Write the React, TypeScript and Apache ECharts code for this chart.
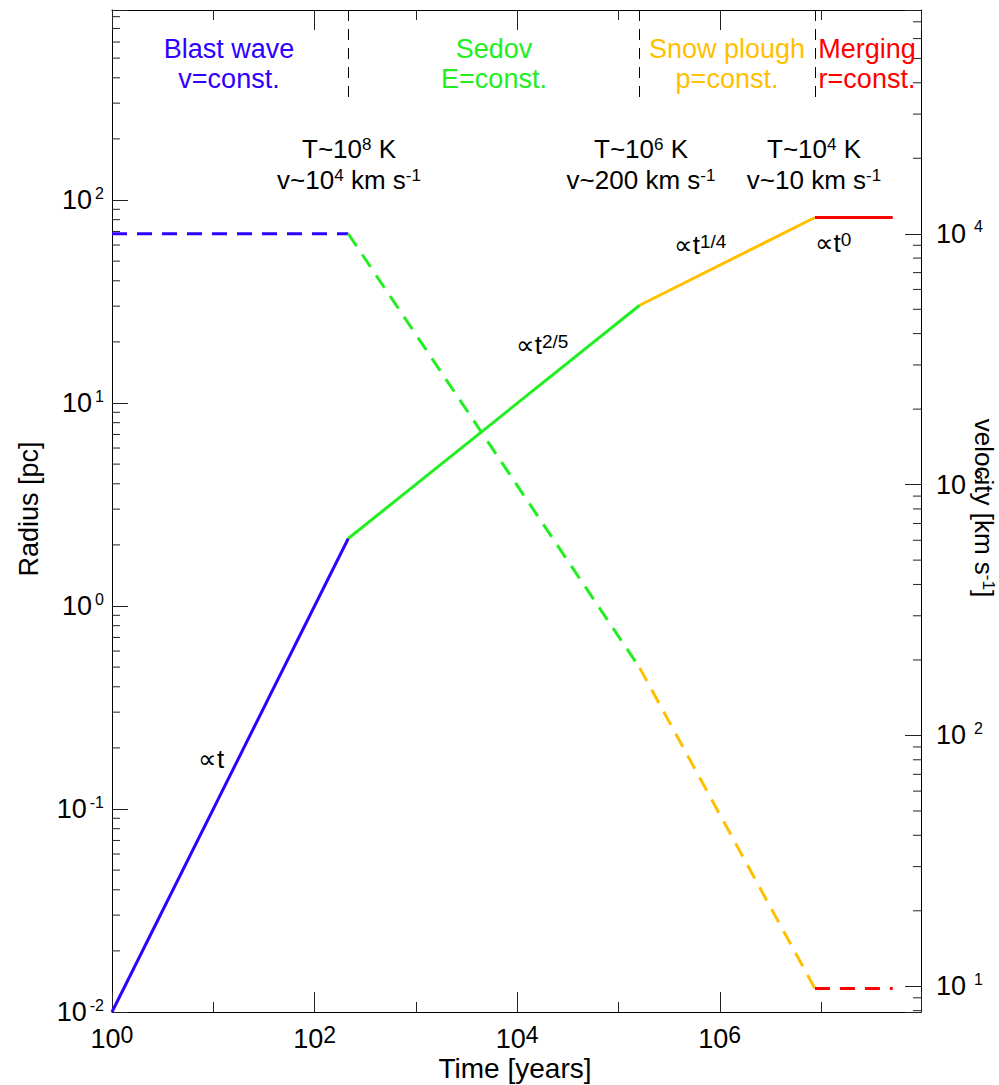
import React, { useEffect, useRef } from 'react';
import * as echarts from 'echarts';

// ---- data ----
// time of each phase boundary [years]
const breakTimes = [1, 215, 1.62e5, 8.7e6, 5.1e7];
// shell radius at each boundary [pc]
const radiusPc = [0.01, 2.15, 30.3, 82, 82];
// shell velocity at each boundary [km/s]
const velocityKms = [1e4, 1e4, 186, 9.8, 9.8];

const phaseNames = ['Blast wave', 'Sedov', 'Snow plough', 'Merging'];
const phaseLaws = ['v=const.', 'E=const.', 'p=const.', 'r=const.'];
const phaseColors = ['#2f00ff', '#22ee22', '#ffc000', '#ff0000'];
const slopeExponents = ['', '2/5', '1/4', '0'];
const transitionTempExp = ['8', '6', '4'];
const transitionSpeeds = [
  ['v~10', '4', ' km s', '-1'],
  ['v~200 km s', '-1', '', ''],
  ['v~10 km s', '-1', '', ''],
];

// axis extents
const timeMin = 1;
const timeMax = 9.7e7;
const radiusMin = 0.01;
const radiusMax = 863;
const velocityMin = 7.9;
const velocityMax = 78000;
const phaseLineBottomRadius = 310; // where the vertical dashed separators end
const minorMultipliers = [2, 3, 4, 5, 6, 7, 8, 9];

const FONT = '"Liberation Sans", Arial, Helvetica, sans-serif';

function expOf(v: number): number | null {
  const e = Math.log10(v);
  const r = Math.round(e);
  if (Math.abs(e - r) > 1e-6) return null;
  return r;
}

function minorTickValues(min: number, max: number): number[] {
  const out: number[] = [];
  const e0 = Math.floor(Math.log10(min));
  const e1 = Math.ceil(Math.log10(max));
  for (let e = e0; e <= e1; e++) {
    for (const m of minorMultipliers) {
      const v = m * Math.pow(10, e);
      if (v > min * 1.0001 && v < max * 0.9999) out.push(v);
    }
  }
  return out;
}

function buildOption() {
  const series: any[] = [];
  for (let i = 0; i < 4; i++) {
    const r: any = {
      type: 'line',
      name: phaseNames[i] + ' radius',
      xAxisIndex: 0,
      yAxisIndex: 0,
      symbol: 'none',
      silent: true,
      data: [
        [breakTimes[i], radiusPc[i]],
        [breakTimes[i + 1], radiusPc[i + 1]],
      ],
      lineStyle: { color: phaseColors[i], width: 3, type: 'solid' },
      z: 3,
    };
    if (i === 0) {
      r.markLine = {
        silent: true,
        symbol: 'none',
        label: { show: false },
        lineStyle: { color: '#000', width: 1, type: [11, 8] },
        data: breakTimes.slice(1, 4).map((t) => [
          { coord: [t, radiusMax] },
          { coord: [t, phaseLineBottomRadius] },
        ]),
      };
    }
    series.push(r);
    series.push({
      type: 'line',
      name: phaseNames[i] + ' velocity',
      xAxisIndex: 0,
      yAxisIndex: 1,
      symbol: 'none',
      silent: true,
      data: [
        [breakTimes[i], velocityKms[i]],
        [breakTimes[i + 1], velocityKms[i + 1]],
      ],
      lineStyle: { color: phaseColors[i], width: 3, type: [15, 10] },
      z: 3,
    });
  }

  // logarithmic minor ticks (2..9 x 10^n) on both y axes
  const minorTickSeries = (yAxisIndex: number, xAt: number, dir: number, values: number[]) => ({
    type: 'custom',
    name: 'minor ticks ' + yAxisIndex,
    xAxisIndex: 0,
    yAxisIndex,
    silent: true,
    clip: false,
    z: 5,
    data: values.map((v) => [xAt, v]),
    renderItem: (_params: any, api: any) => {
      const p = api.coord([api.value(0), api.value(1)]);
      return {
        type: 'line',
        shape: { x1: p[0], y1: p[1], x2: p[0] + dir * 8, y2: p[1] },
        style: { stroke: '#222', lineWidth: 1 },
      };
    },
  });
  series.push(minorTickSeries(0, timeMin, 1, minorTickValues(radiusMin, radiusMax)));
  series.push(minorTickSeries(1, timeMax, -1, minorTickValues(velocityMin, velocityMax)));

  const axisLineStyle = { color: '#000', width: 1 };
  const tickStyle = { color: '#222', width: 1 };

  const xLabel = {
    show: true,
    margin: 11,
    formatter: (v: number) => {
      const e = expOf(v);
      return e === null ? '' : `{b|10}{s|${e}}`;
    },
    rich: {
      b: { fontSize: 27, fontFamily: FONT, color: '#000', lineHeight: 32 },
      s: { fontSize: 23, fontFamily: FONT, color: '#000', lineHeight: 10, verticalAlign: 'top' },
    },
  };

  const mkX = (base: number, pos: string, len: number, labels: boolean, line: boolean) => ({
    type: 'log',
    logBase: base,
    min: timeMin,
    max: timeMax,
    position: pos,
    gridIndex: 0,
    axisLine: { show: line, lineStyle: axisLineStyle },
    axisTick: { show: true, inside: true, length: len, lineStyle: tickStyle },
    axisLabel: labels ? xLabel : { show: false },
    splitLine: { show: false },
    minorTick: { show: false },
    minorSplitLine: { show: false },
  });

  const yLabel = (margin: number, gap: number) => ({
    show: true,
    margin,
    formatter: (v: number) => {
      const e = expOf(v);
      return e === null ? '' : `{b|10}{s|${e}}`;
    },
    rich: {
      b: { fontSize: 27, fontFamily: FONT, color: '#000', lineHeight: 30 },
      s: {
        fontSize: 16,
        fontFamily: FONT,
        color: '#000',
        lineHeight: 14,
        verticalAlign: 'top',
        padding: [0, 0, 0, gap],
      },
    },
  });

  const mkY = (min: number, max: number, pos: string, margin: number, gap: number) => ({
    type: 'log',
    logBase: 10,
    min,
    max,
    position: pos,
    gridIndex: 0,
    axisLine: { show: true, lineStyle: axisLineStyle },
    axisTick: { show: true, inside: true, length: 16, lineStyle: tickStyle },
    minorTick: { show: false },
    axisLabel: yLabel(margin, gap),
    splitLine: { show: false },
    minorSplitLine: { show: false },
  });

  const txt = (
    x: number,
    y: number,
    text: string,
    color: string,
    rich?: any,
    rotation = 0,
    size = 26,
    lh = 26
  ) => ({
    type: 'text',
    x,
    y,
    rotation,
    silent: true,
    z: 10,
    style: {
      text,
      fill: color,
      font: `${size}px ${FONT}`,
      fontSize: size,
      fontFamily: FONT,
      lineHeight: lh,
      align: 'center',
      verticalAlign: 'middle',
      textAlign: 'center',
      textVerticalAlign: 'middle',
      rich,
    },
  });

  const richFor = (color: string, base = 26, sup = 17) => ({
    n: { fontSize: base, fontFamily: FONT, fill: color, color, lineHeight: 26 },
    s: { fontSize: sup, fontFamily: FONT, fill: color, color, lineHeight: 10, verticalAlign: 'top' },
  });

  const phaseX = [229, 494, 727, 867];
  const transX = [349, 641, 814];
  const slopePos = [
    [211, 759],
    [542, 345],
    [700, 245],
    [833, 243],
  ];

  const graphics: any[] = [];
  for (let i = 0; i < 4; i++) {
    graphics.push(txt(phaseX[i], 49, phaseNames[i], phaseColors[i], undefined, 0, 27));
    graphics.push(txt(phaseX[i], 79, phaseLaws[i], phaseColors[i], undefined, 0, 27));
    const se = slopeExponents[i];
    graphics.push(
      txt(
        slopePos[i][0],
        slopePos[i][1],
        se ? `{n|∝t}{s|${se}}` : '{n|∝t}',
        '#000',
        richFor('#000', 26, 19)
      )
    );
  }
  for (let i = 0; i < 3; i++) {
    graphics.push(
      txt(transX[i], 149, `{n|T~10}{s|${transitionTempExp[i]}}{n| K}`, '#000', richFor('#000'))
    );
    const sp = transitionSpeeds[i];
    let t = `{n|${sp[0]}}{s|${sp[1]}}`;
    if (sp[2]) t += `{n|${sp[2]}}{s|${sp[3]}}`;
    graphics.push(txt(transX[i], 180, t, '#000', richFor('#000')));
  }
  graphics.push(txt(29, 509, 'Radius [pc]', '#000', undefined, Math.PI / 2, 27));
  graphics.push(
    txt(984, 508, '{n|velocity [km s}{s|-1}{n|]}', '#000', richFor('#000'), -Math.PI / 2)
  );
  graphics.push(txt(515, 1068, 'Time [years]', '#000', undefined, 0, 28, 22));

  return {
    animation: false,
    backgroundColor: '#ffffff',
    grid: {
      left: 112,
      right: 78,
      top: 10,
      bottom: 73,
      containLabel: false,
      outerBoundsMode: 'none',
    },
    xAxis: [
      mkX(100, 'bottom', 20, true, true),
      mkX(10, 'bottom', 10, false, false),
      mkX(100, 'top', 20, false, true),
      mkX(10, 'top', 10, false, false),
    ],
    yAxis: [
      mkY(radiusMin, radiusMax, 'left', 8, 3),
      mkY(velocityMin, velocityMax, 'right', 15, 8),
    ],
    series,
    graphic: { elements: graphics },
  };
}

export default function App() {
  const ref = useRef<HTMLDivElement>(null);
  useEffect(() => {
    if (!ref.current) return;
    const chart = echarts.init(ref.current, null, { renderer: 'svg' });
    chart.setOption(buildOption() as any);
    return () => chart.dispose();
  }, []);
  return (
    <div
      ref={ref}
      style={{ position: 'absolute', left: 0, top: 0, width: 999, height: 1085, background: '#fff' }}
    />
  );
}
